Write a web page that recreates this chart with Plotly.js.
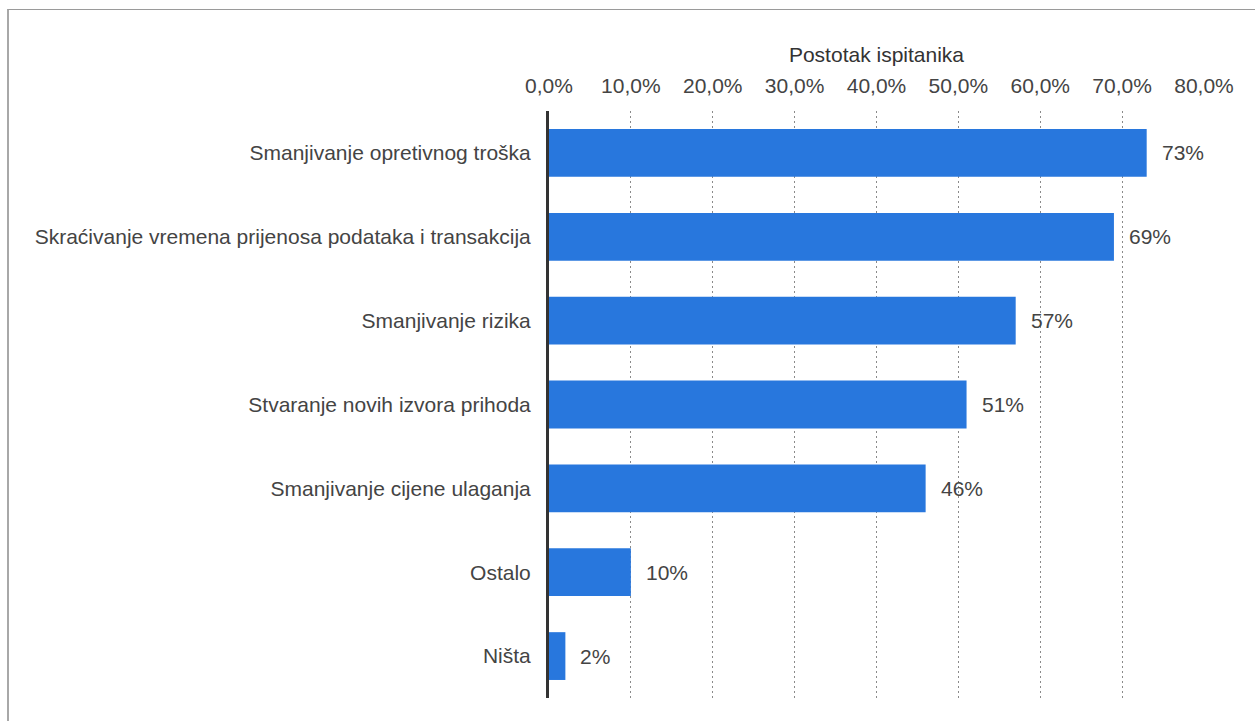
<!DOCTYPE html>
<html>
<head>
<meta charset="utf-8">
<script src="https://cdn.plot.ly/plotly-3.0.1.min.js"></script>
<style>
  html, body { margin: 0; padding: 0; background: #fff; }
  #wrap { position: relative; width: 1255px; height: 721px; overflow: hidden; }
  #chart { position: absolute; left: 0; top: 0; width: 1255px; height: 721px; }
  #frame { position: absolute; left: 7px; top: 9px; right: -10px; bottom: -10px;
           border-left: 2px solid #a8a8a8; border-top: 1px solid #9a9a9a; pointer-events: none; }
</style>
</head>
<body>
<div id="wrap">
  <div id="chart"></div>
  <div id="frame"></div>
</div>
<script>
const categories = [
  "Smanjivanje opretivnog troška",
  "Skraćivanje vremena prijenosa podataka i transakcija",
  "Smanjivanje rizika",
  "Stvaranje novih izvora prihoda",
  "Smanjivanje cijene ulaganja",
  "Ostalo",
  "Ništa"
];
const values = [73, 69, 57, 51, 46, 10, 2];
const tickValues = [0, 10, 20, 30, 40, 50, 60, 70, 80];
const tickLabels = ["0,0%", "10,0%", "20,0%", "30,0%", "40,0%", "50,0%", "60,0%", "70,0%", "80,0%"];
const axisTitle = "Postotak ispitanika";

const FONT = '"Liberation Sans", Arial, sans-serif';

const trace = {
  type: 'bar',
  orientation: 'h',
  x: values,
  y: categories,
  marker: { color: '#2877dd' },
  hoverinfo: 'x+y'
};

const annotations = values.map((v, i) => ({
  x: v,
  y: categories[i],
  xref: 'x',
  yref: 'y',
  text: v + '%',
  showarrow: false,
  xanchor: 'left',
  yanchor: 'middle',
  xshift: 13,
  font: { family: FONT, size: 21, color: '#444' }
}));

const layout = {
  width: 1255,
  height: 721,
  margin: { l: 549, r: 51, t: 111, b: 23, pad: 0 },
  paper_bgcolor: 'rgba(0,0,0,0)',
  plot_bgcolor: 'rgba(0,0,0,0)',
  bargap: 0.43,
  showlegend: false,
  font: { family: FONT, size: 21, color: '#444' },
  xaxis: {
    side: 'top',
    range: [0, 80],
    tickvals: tickValues,
    ticktext: tickLabels,
    ticks: '',
    ticklabelstandoff: 13,
    showgrid: true,
    gridcolor: '#8a8a8a',
    gridwidth: 1,
    griddash: '2px,3px',
    zeroline: false,
    showline: false,
    tickfont: { family: FONT, size: 21, color: '#444' },
    title: { text: axisTitle, font: { family: FONT, size: 21, color: '#333' }, standoff: 5 },
    fixedrange: true
  },
  yaxis: {
    autorange: 'reversed',
    showline: true,
    linecolor: '#333',
    linewidth: 3,
    ticks: '',
    showgrid: false,
    zeroline: false,
    ticklabelstandoff: 11,
    tickfont: { family: FONT, size: 21, color: '#444' },
    fixedrange: true
  },
  annotations: annotations
};

Plotly.newPlot('chart', [trace], layout, { displayModeBar: false, staticPlot: true });
</script>
</body>
</html>
